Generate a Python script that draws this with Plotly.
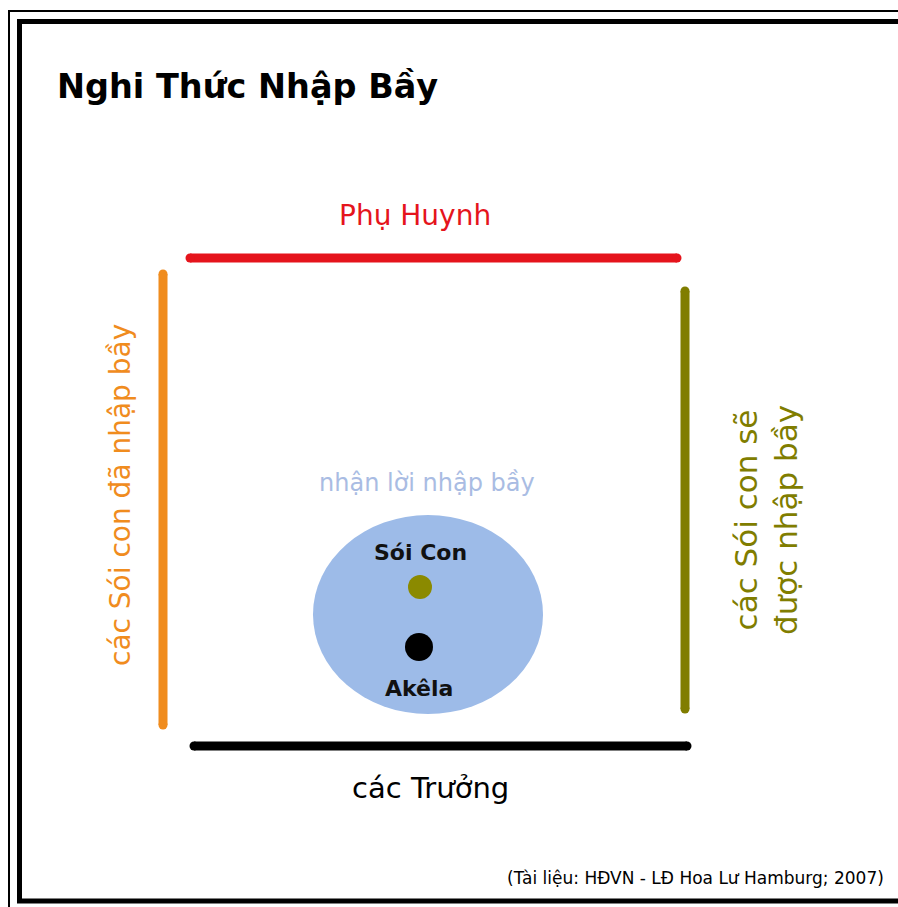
import plotly.graph_objects as go

W, H = 898, 907

# Diagram elements (groups placed around the square)
title_text = "Nghi Thức Nhập Bầy"
source_text = "(Tài liệu: HĐVN - LĐ Hoa Lư Hamburg; 2007)"

side_names = ["Phụ Huynh", "các Sói con đã nhập bầy", "các Sói con sẽ<br>được nhập bầy", "các Trưởng"]
side_colors = ["#e5141c", "#f08c1e", "#807d00", "#000000"]
side_x = [[190, 677], [163, 163], [685, 685], [194, 687]]
side_y = [[258, 258], [274, 725], [291, 709], [746, 746]]
label_x = [415, 120, 766, 430]
label_y = [215, 495, 520, 788]
label_angle = [0, -90, -90, 0]
label_size = [28, 28, 31, 29]

circle_label = "nhận lời nhập bầy"
people = ["Sói Con", "Akêla"]
people_colors = ["#8b8a00", "#000000"]
people_x = [420, 419]
people_y = [587, 647]
people_size = [24, 28]
people_label_y = [552, 688]

fig = go.Figure()

# blue circle
fig.add_shape(type="circle", x0=313, x1=543, y0=515, y1=714,
              fillcolor="#9dbbe8", line=dict(width=0), layer="below")

for name, c, xs, ys in zip(side_names, side_colors, side_x, side_y):
    fig.add_trace(go.Scatter(x=xs, y=ys, mode="lines+markers",
                             line=dict(color=c, width=9),
                             marker=dict(color=c, size=9, line=dict(width=0)),
                             hoverinfo="skip", showlegend=False))

fig.add_trace(go.Scatter(x=people_x, y=people_y, mode="markers",
                         marker=dict(color=people_colors, size=people_size, opacity=1,
                                     line=dict(width=0)),
                         hoverinfo="skip", showlegend=False))

font_fam = "DejaVu Sans, Verdana, sans-serif"
for name, c, lx, ly, ang, fs in zip(side_names, side_colors, label_x, label_y, label_angle, label_size):
    fig.add_annotation(x=lx, y=ly, text=name, showarrow=False, textangle=ang,
                       font=dict(family=font_fam, size=fs, color=c), align="center")

fig.add_annotation(x=427, y=483, text=circle_label, showarrow=False,
                   font=dict(family=font_fam, size=24, color="#a9bce3"))
for p, py, px in zip(people, people_label_y, people_x):
    fig.add_annotation(x=px, y=py, text="<b>" + p + "</b>", showarrow=False,
                       font=dict(family=font_fam, size=22, color="#111111"))

fig.add_annotation(x=55, y=86, text="<b>" + title_text + "</b>", showarrow=False, xanchor="left",
                   font=dict(family=font_fam, size=33.5, color="#000000"))
fig.add_annotation(x=886, y=878, text=source_text, showarrow=False, xanchor="right",
                   font=dict(family=font_fam, size=17, color="#000000"))

# frames
fig.add_shape(type="rect", x0=9, y0=11, x1=930, y1=930, line=dict(color="#000", width=2))
fig.add_shape(type="rect", x0=19.5, y0=21.5, x1=930, y1=901, line=dict(color="#000", width=5))

fig.update_layout(width=W, height=H, margin=dict(l=0, r=0, t=0, b=0),
                  paper_bgcolor="white", plot_bgcolor="white",
                  xaxis=dict(range=[0, W], visible=False, fixedrange=True),
                  yaxis=dict(range=[H, 0], visible=False, fixedrange=True))

fig.write_html("out.html", config={"displayModeBar": False},
               post_script="document.body.style.margin='0';"
                           "document.documentElement.style.overflow='hidden';")
